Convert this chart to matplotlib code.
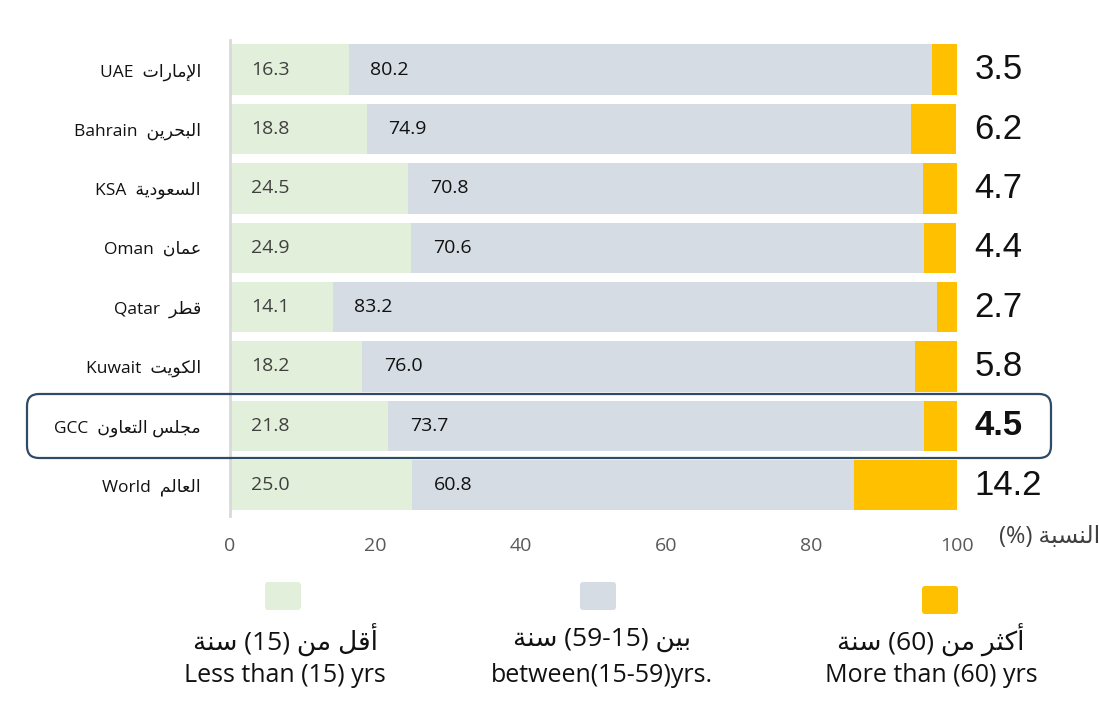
import matplotlib
matplotlib.use("Agg")
import matplotlib.pyplot as plt
from matplotlib.patches import FancyBboxPatch

# data (percent of population by age group)
countries_en = ["UAE", "Bahrain", "KSA", "Oman", "Qatar", "Kuwait", "GCC", "World"]
countries_ar = ["الإمارات", "البحرين", "السعودية", "عمان", "قطر", "الكويت", "مجلس التعاون", "العالم"]
under15 = [16.3, 18.8, 24.5, 24.9, 14.1, 18.2, 21.8, 25.0]
age15_59 = [80.2, 74.9, 70.8, 70.6, 83.2, 76.0, 73.7, 60.8]
over60 = [3.5, 6.2, 4.7, 4.4, 2.7, 5.8, 4.5, 14.2]
xticks = [0, 20, 40, 60, 80, 100]

legend_ar = ["أقل من (15) سنة", "بين (59-15) سنة", "أكثر من (60) سنة"]
legend_en = ["Less than (15) yrs", "between(15-59)yrs.", "More than (60) yrs"]
xlabel_ar = "النسبة (%)"

c_young = "#E2EFDA"
c_mid = "#D6DCE4"
c_old = "#FFC000"

# --- tiny arabic shaper (matplotlib has no complex text layout) ---
FORMS = {
    'ا': ('\uFE8D', '\uFE8E', None, None), 'أ': ('\uFE83', '\uFE84', None, None),
    'إ': ('\uFE87', '\uFE88', None, None), 'ب': ('\uFE8F', '\uFE90', '\uFE91', '\uFE92'),
    'ة': ('\uFE93', '\uFE94', None, None), 'ت': ('\uFE95', '\uFE96', '\uFE97', '\uFE98'),
    'ث': ('\uFE99', '\uFE9A', '\uFE9B', '\uFE9C'), 'ج': ('\uFE9D', '\uFE9E', '\uFE9F', '\uFEA0'),
    'ح': ('\uFEA1', '\uFEA2', '\uFEA3', '\uFEA4'), 'د': ('\uFEA9', '\uFEAA', None, None),
    'ر': ('\uFEAD', '\uFEAE', None, None), 'س': ('\uFEB1', '\uFEB2', '\uFEB3', '\uFEB4'),
    'ط': ('\uFEC1', '\uFEC2', '\uFEC3', '\uFEC4'), 'ع': ('\uFEC9', '\uFECA', '\uFECB', '\uFECC'),
    'ق': ('\uFED5', '\uFED6', '\uFED7', '\uFED8'), 'ك': ('\uFED9', '\uFEDA', '\uFEDB', '\uFEDC'),
    'ل': ('\uFEDD', '\uFEDE', '\uFEDF', '\uFEE0'), 'م': ('\uFEE1', '\uFEE2', '\uFEE3', '\uFEE4'),
    'ن': ('\uFEE5', '\uFEE6', '\uFEE7', '\uFEE8'), 'و': ('\uFEED', '\uFEEE', None, None),
    'ي': ('\uFEF1', '\uFEF2', '\uFEF3', '\uFEF4'),
}
LAMALEF = {'ا': ('\uFEFB', '\uFEFC'), 'أ': ('\uFEF7', '\uFEF8'), 'إ': ('\uFEF9', '\uFEFA')}


def shape_word(w):
    res = []
    i = 0
    while i < len(w):
        c = w[i]
        prev = w[i - 1] if i > 0 else None
        join_prev = prev in FORMS and FORMS[prev][2] is not None
        if c == 'ل' and i + 1 < len(w) and w[i + 1] in LAMALEF:
            iso, fin = LAMALEF[w[i + 1]]
            res.append(fin if join_prev else iso)
            i += 2
            continue
        f = FORMS[c]
        nxt = w[i + 1] if i + 1 < len(w) else None
        join_next = f[2] is not None and nxt in FORMS
        if join_prev and join_next:
            g = f[3]
        elif join_prev:
            g = f[1]
        elif join_next:
            g = f[2]
        else:
            g = f[0]
        res.append(g)
        i += 1
    return ''.join(reversed(res))


def ar(s):
    toks = s.split(' ')
    out = []
    for t in reversed(toks):
        out.append(shape_word(t) if t and t[0] in FORMS else t)
    return ' '.join(out)


fam = ['Open Sans', 'DejaVu Sans']
plt.rcParams['font.family'] = fam

fig = plt.figure(figsize=(10.99, 7.16), dpi=100)
ax = fig.add_axes([230 / 1099, 1 - 516 / 716, 727 / 1099, 476 / 716])

y = list(range(len(countries_en)))
left2 = under15
left3 = [a + b for a, b in zip(under15, age15_59)]
ax.barh(y, under15, height=0.85, color=c_young)
ax.barh(y, age15_59, left=left2, height=0.85, color=c_mid)
ax.barh(y, over60, left=left3, height=0.85, color=c_old)

for i in y:
    ax.text(2.9, i, f"{under15[i]:.1f}", va='center', ha='left', fontsize=14, color='#404040')
    ax.text(under15[i] + 3, i, f"{age15_59[i]:.1f}", va='center', ha='left', fontsize=14, color='#111111')
    bold = countries_en[i] == "GCC"
    ax.text(102.4, i, f"{over60[i]:.1f}", va='center', ha='left', fontsize=25,
            family='Liberation Sans', fontweight='bold' if bold else 'normal',
            color='#111111', clip_on=False)

ax.set_xlim(0, 100)
ax.set_ylim(7.52, -0.5)
ax.set_xticks(xticks)
ax.set_xticklabels([str(t) for t in xticks], fontsize=14, color='#595959')
ax.set_yticks(y)
ax.set_yticklabels([en + "  " + ar(a) for en, a in zip(countries_en, countries_ar)],
                   fontsize=12.5, color='#111111')
ax.tick_params(axis='x', length=0, pad=15)
ax.tick_params(axis='y', length=0, pad=21)
for s in ['top', 'right', 'bottom']:
    ax.spines[s].set_visible(False)
ax.spines['left'].set_color('#D9D9D9')
ax.spines['left'].set_linewidth(2)

fig.text(999 / 1099, 1 - 537 / 716, ar(xlabel_ar), ha='left', va='center', fontsize=17, color='#404040')

# highlight box round the GCC row
box = FancyBboxPatch((0.27, (716 - 458) / 100), 10.24, 0.64,
                     boxstyle="round,pad=0,rounding_size=0.12",
                     transform=fig.dpi_scale_trans, fill=False,
                     edgecolor='#2F4B66', linewidth=1.6)
fig.patches.append(box)

# legend drawn by hand
leg_cx = [285, 602, 931]
sq_cx = [283, 598, 940]
sq_cy = [596, 596, 600]
leg_cols = [c_young, c_mid, c_old]
for k in range(3):
    sq = FancyBboxPatch(((sq_cx[k] - 18) / 100, (716 - sq_cy[k] - 14) / 100), 0.36, 0.28,
                        boxstyle="round,pad=0,rounding_size=0.03",
                        transform=fig.dpi_scale_trans, facecolor=leg_cols[k], edgecolor='none')
    fig.patches.append(sq)
    fig.text(leg_cx[k] / 1099, 1 - 640 / 716, ar(legend_ar[k]), ha='center', va='center',
             fontsize=19, color='#111111')
    fig.text(leg_cx[k] / 1099, 1 - 675 / 716, legend_en[k], ha='center', va='center',
             fontsize=18, color='#111111')

fig.savefig("out.png", dpi=100)
